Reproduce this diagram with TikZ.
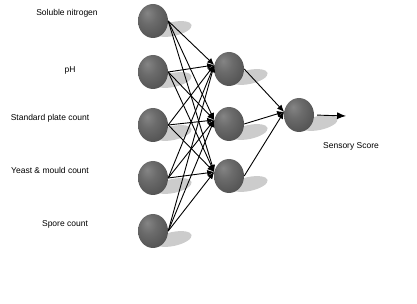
\documentclass[tikz,border=0pt]{standalone}
\usepackage{fontspec}
\setmainfont{Liberation Sans}
\usetikzlibrary{arrows.meta,shapes.geometric,calc}
\pgfdeclareradialshading{sphereshade}{\pgfpoint{-10bp}{12bp}}{%
  color(0bp)=(black!48);
  color(14bp)=(black!58);
  color(32bp)=(black!67);
  color(50bp)=(black!75);
  color(70bp)=(black!80)}
\tikzset{
  neuron/.style={ellipse, minimum width=30pt, minimum height=34pt, inner sep=0pt, shading=sphereshade},
  shadowell/.style={fill=black!20, draw=none},
  conn/.style={line width=0.9pt, -{Latex[length=7pt,width=6pt]}},
  outconn/.style={line width=0.9pt, shorten <=3pt, -{Latex[length=9pt,width=7pt]}},
  lbl/.style={font=\fontsize{8.5}{10}\selectfont, inner sep=0pt}
}
\begin{document}
\begin{tikzpicture}[x=1pt,y=1pt]
\useasboundingbox (0,0) rectangle (417,304);
% shadows
\foreach \x/\y in {153/283,153/232,153/179,153/126,153/73,229/235,229/180,229/128,299/189}{
  \fill[shadowell, rotate around={12:(\x+20,\y-8)}] (\x+20,\y-8) ellipse (19 and 7);
}
% nodes
\node[neuron] (i1) at (153,283) {};
\node[neuron] (i2) at (153,232) {};
\node[neuron] (i3) at (153,179) {};
\node[neuron] (i4) at (153,126) {};
\node[neuron] (i5) at (153,73) {};
\node[neuron] (h1) at (229,235) {};
\node[neuron] (h2) at (229,180) {};
\node[neuron] (h3) at (229,128) {};
\node[neuron] (o) at (299,189) {};
\coordinate (out) at (346,188);
% labels
\node[lbl] (l1) at (67,291) {Soluble nitrogen};
\node[lbl] (l2) at (70,234) {pH};
\node[lbl] (l3) at (50,186) {Standard plate count};
\node[lbl] (l4) at (50,134) {Yeast \& mould count};
\node[lbl] (l5) at (65,80) {Spore count};
\node[lbl] (l6) at (351,158) {Sensory Score};
% connectors
\foreach \i in {1,...,5}{
  \foreach \h in {1,2,3}{
    \draw[conn] (i\i.east) -- (h\h.165);
  }
}
\foreach \h in {1,2,3}{
  \draw[conn] (h\h.east) -- (o.168);
}
\draw[outconn] (o.east) -- (out);
\end{tikzpicture}
\end{document}
